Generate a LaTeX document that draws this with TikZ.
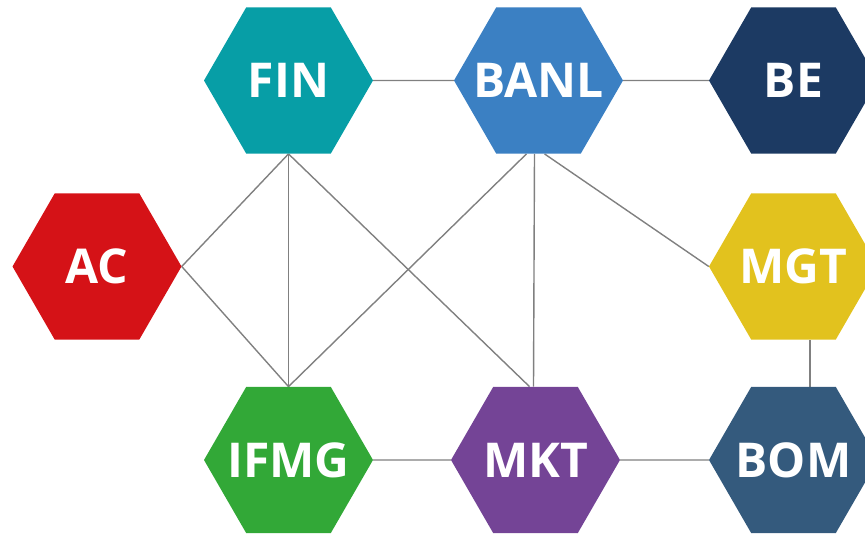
\documentclass[tikz,border=0pt]{standalone}
\usepackage{fontspec}
\setmainfont{Open Sans}
\usetikzlibrary{shapes.geometric, positioning, backgrounds}
\definecolor{finteal}{RGB}{7,158,166}
\definecolor{banlblue}{RGB}{59,128,195}
\definecolor{benavy}{RGB}{28,58,99}
\definecolor{acred}{RGB}{213,18,23}
\definecolor{mgtyellow}{RGB}{226,194,30}
\definecolor{ifmggreen}{RGB}{50,168,55}
\definecolor{mktpurple}{RGB}{116,68,150}
\definecolor{bomslate}{RGB}{52,90,125}
\newcommand{\hexlabel}[1]{\makebox[0pt]{#1}}
\tikzstyle{hexa} = [regular polygon, regular polygon sides=6, minimum size=169pt, inner sep=0pt, text=white, font=\fontsize{48}{48}\selectfont\bfseries]
\tikzstyle{link} = [draw=black!50, line width=1.4pt]

\begin{document}
\begin{tikzpicture}[node distance=190pt]
\useasboundingbox (0,0) rectangle (865pt,-534pt);

\node (fin) [hexa, fill=finteal] at (288.5pt,-80.5pt) {\hexlabel{FIN}};
\node (banl) [hexa, fill=banlblue, right of=fin, xshift=60pt] {\hexlabel{BANL}};
\node (be) [hexa, fill=benavy, right of=banl, xshift=65pt] {\hexlabel{BE}};
\node (ac) [hexa, fill=acred, below of=fin, xshift=-191.5pt, yshift=4pt] {\hexlabel{AC}};
\node (mgt) [hexa, fill=mgtyellow, below of=be, yshift=4pt] {\hexlabel{MGT}};
\node (ifmg) [hexa, fill=ifmggreen, below of=ac, xshift=191.5pt, yshift=-3.5pt] {\hexlabel{IFMG}};
\node (mkt) [hexa, fill=mktpurple, right of=ifmg, xshift=57pt] {\hexlabel{MKT}};
\node (bom) [hexa, fill=bomslate, right of=mkt, xshift=68pt] {\hexlabel{BOM}};

\begin{scope}[on background layer]
\draw [link] (fin) -- (banl);
\draw [link] (banl) -- (be);
\draw [link] (fin.south) -- (ac.east);
\draw [link] (fin.south) -- (ifmg.north);
\draw [link] (fin.south) -- ([xshift=-6pt]mkt.north);
\draw [link] (ac.east) -- (ifmg.north);
\draw [link] ([xshift=-12pt]banl.south) -- (ifmg.north);
\draw [link] ([xshift=-4pt]banl.south) -- ([xshift=-2pt]mkt.north);
\draw [link] ([xshift=6pt]banl.south) -- (mgt.west);
\draw [link] ([xshift=16.5pt]mgt.south) -- ([xshift=16.5pt]bom.north);
\draw [link] (ifmg) -- (mkt);
\draw [link] (mkt) -- (bom);
\end{scope}

\end{tikzpicture}
\end{document}
